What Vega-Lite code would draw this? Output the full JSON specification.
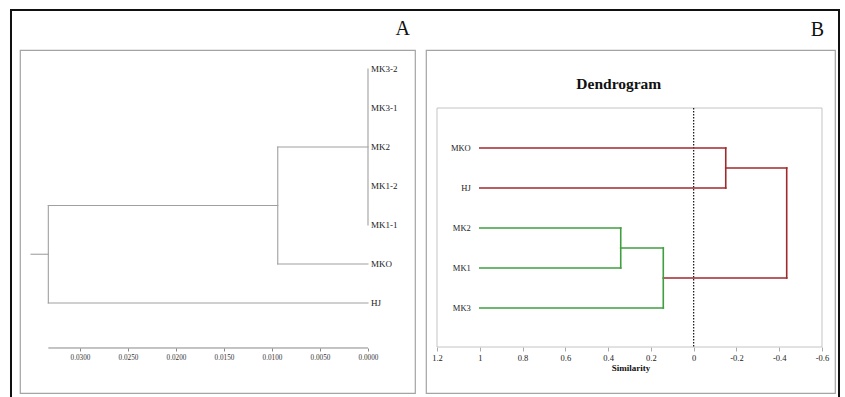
{
  "$schema": "https://vega.github.io/schema/vega-lite/v6.json",
  "background": "white",
  "padding": {"left": 9, "top": 8, "right": 0, "bottom": 0},
  "autosize": {"type": "pad"},
  "spacing": 11,
  "bounds": "flush",
  "config": {
    "view": {"stroke": "#a4a4a4", "strokeWidth": 1.2},
    "font": "Liberation Serif",
    "title": {"font": "Liberation Serif", "fontWeight": "normal", "fontSize": 20, "anchor": "end", "frame": "group", "baseline": "alphabetic", "color": "#111"}
  },
  "hconcat": [
    {
      "width": 395,
      "height": 343,
      "title": {"text": "A", "offset": -30, "dx": -5},
      "layer": [
        {
          "data": {"values": [{}]},
          "mark": {"type": "rect", "filled": false, "stroke": "#111", "strokeWidth": 2, "clip": false},
          "encoding": {
            "x": {"datum": 0.037188, "type": "quantitative", "title": null, "scale": {"domain": [-0.004896, 0.03625], "reverse": true, "nice": false, "zero": false}},
            "x2": {"datum": -0.049063},
            "y": {"datum": -0.513, "type": "quantitative", "scale": {"domain": [0.513, 9.308], "reverse": true, "nice": false, "zero": false}, "axis": null},
            "y2": {"datum": 9.6}
          }
        },
        {
          "data": {"values": [
            {"x1": 0, "x2": 0, "y1": 1, "y2": 5},
            {"x1": 0, "x2": 0.0094, "y1": 3, "y2": 3},
            {"x1": 0.0094, "x2": 0.0094, "y1": 3, "y2": 6},
            {"x1": 0.0094, "x2": 0, "y1": 6, "y2": 6},
            {"x1": 0.0094, "x2": 0.0333, "y1": 4.5, "y2": 4.5},
            {"x1": 0.0333, "x2": 0.0333, "y1": 4.5, "y2": 7},
            {"x1": 0.0333, "x2": 0, "y1": 7, "y2": 7},
            {"x1": 0.0333, "x2": 0.0351, "y1": 5.75, "y2": 5.75}
          ]},
          "mark": {"type": "rule", "color": "#a0a0a0", "strokeWidth": 1.1, "strokeCap": "square"},
          "encoding": {
            "x": {"field": "x1", "type": "quantitative", "title": null,
              "scale": {"domain": [-0.004896, 0.03625], "reverse": true, "nice": false, "zero": false},
              "axis": {"values": [0.03, 0.025, 0.02, 0.015, 0.01, 0.005, 0], "format": ".4f", "domain": false, "grid": false, "offset": -45, "tickSize": 3, "tickColor": "#888", "labelFontSize": 7.2, "labelFont": "Liberation Serif", "labelColor": "#333", "labelPadding": 2, "title": null}},
            "x2": {"field": "x2"},
            "y": {"field": "y1", "type": "quantitative", "scale": {"domain": [0.513, 9.308], "reverse": true, "nice": false, "zero": false}, "axis": null},
            "y2": {"field": "y2"}
          }
        },
        {
          "data": {"values": [{}]},
          "mark": {"type": "rule", "color": "#888", "strokeWidth": 1},
          "encoding": {
            "x": {"datum": 0.0333, "type": "quantitative", "title": null},
            "x2": {"datum": 0},
            "y": {"datum": 8.154, "type": "quantitative", "axis": null}
          }
        },
        {
          "data": {"values": [
            {"leaf": "MK3-2", "dist": 0, "pos": 1},
            {"leaf": "MK3-1", "dist": 0, "pos": 2},
            {"leaf": "MK2", "dist": 0, "pos": 3},
            {"leaf": "MK1-2", "dist": 0, "pos": 4},
            {"leaf": "MK1-1", "dist": 0, "pos": 5},
            {"leaf": "MKO", "dist": 0, "pos": 6},
            {"leaf": "HJ", "dist": 0, "pos": 7}
          ]},
          "mark": {"type": "text", "align": "left", "baseline": "middle", "dx": 3, "fontSize": 9, "font": "Liberation Serif", "color": "#222"},
          "encoding": {
            "x": {"field": "dist", "type": "quantitative", "title": null},
            "y": {"field": "pos", "type": "quantitative", "axis": null},
            "text": {"field": "leaf"}
          }
        }
      ]
    },
    {
      "width": 409,
      "height": 343,
      "title": {"text": "B", "offset": 10, "dx": -11},
      "layer": [
        {
          "data": {"values": [{}]},
          "mark": {"type": "rect", "filled": false, "stroke": "#c4c4c4", "strokeWidth": 1},
          "encoding": {
            "x": {"datum": 1.2, "type": "quantitative", "title": "Similarity", "scale": {"domain": [-0.6608, 1.2514], "reverse": true, "nice": false, "zero": false},
              "axis": {"values": [1.2, 1, 0.8, 0.6, 0.4, 0.2, 0, -0.2, -0.4, -0.6], "format": "~g", "labelExpr": "replace(datum.label, '\u2212', '-')", "domain": false, "grid": false, "offset": -46, "tickSize": 4, "tickColor": "#aaa", "labelFontSize": 8.5, "labelFont": "Liberation Serif", "labelColor": "#222", "labelPadding": 2, "title": "Similarity", "titleFont": "Liberation Serif", "titleFontSize": 9, "titleFontWeight": "bold", "titleColor": "#111", "titlePadding": 2}},
            "x2": {"datum": -0.6},
            "y": {"datum": 0, "type": "quantitative", "scale": {"domain": [-1.45, 7.125], "reverse": true, "nice": false, "zero": false}, "axis": null},
            "y2": {"datum": 5.975}
          }
        },
        {
          "data": {"values": [{}]},
          "mark": {"type": "rule", "color": "#111", "strokeWidth": 1.2, "strokeDash": [1.5, 1.5]},
          "encoding": {
            "x": {"datum": 0, "type": "quantitative", "title": "Similarity"},
            "y": {"datum": 0, "type": "quantitative", "axis": null},
            "y2": {"datum": 5.975}
          }
        },
        {
          "data": {"values": [
            {"x1": 1, "x2": -0.15, "y1": 1, "y2": 1, "cluster": "red"},
            {"x1": 1, "x2": -0.15, "y1": 2, "y2": 2, "cluster": "red"},
            {"x1": -0.15, "x2": -0.15, "y1": 1, "y2": 2, "cluster": "red"},
            {"x1": -0.15, "x2": -0.435, "y1": 1.5, "y2": 1.5, "cluster": "red"},
            {"x1": -0.435, "x2": -0.435, "y1": 1.5, "y2": 4.25, "cluster": "red"},
            {"x1": -0.435, "x2": 0.142, "y1": 4.25, "y2": 4.25, "cluster": "red"},
            {"x1": 1, "x2": 0.341, "y1": 3, "y2": 3, "cluster": "green"},
            {"x1": 1, "x2": 0.341, "y1": 4, "y2": 4, "cluster": "green"},
            {"x1": 0.341, "x2": 0.341, "y1": 3, "y2": 4, "cluster": "green"},
            {"x1": 0.341, "x2": 0.142, "y1": 3.5, "y2": 3.5, "cluster": "green"},
            {"x1": 0.142, "x2": 0.142, "y1": 3.5, "y2": 5, "cluster": "green"},
            {"x1": 1, "x2": 0.142, "y1": 5, "y2": 5, "cluster": "green"}
          ]},
          "mark": {"type": "rule", "strokeWidth": 1.6, "strokeCap": "square"},
          "encoding": {
            "x": {"field": "x1", "type": "quantitative", "title": "Similarity"},
            "x2": {"field": "x2"},
            "y": {"field": "y1", "type": "quantitative", "axis": null},
            "y2": {"field": "y2"},
            "color": {"field": "cluster", "type": "nominal", "scale": {"domain": ["red", "green"], "range": ["#a0292b", "#3f9e3f"]}, "legend": null}
          }
        },
        {
          "data": {"values": [
            {"leaf": "MKO", "sim": 1, "pos": 1},
            {"leaf": "HJ", "sim": 1, "pos": 2},
            {"leaf": "MK2", "sim": 1, "pos": 3},
            {"leaf": "MK1", "sim": 1, "pos": 4},
            {"leaf": "MK3", "sim": 1, "pos": 5}
          ]},
          "mark": {"type": "text", "align": "right", "baseline": "middle", "dx": -9, "fontSize": 8.5, "font": "Liberation Serif", "color": "#222"},
          "encoding": {
            "x": {"field": "sim", "type": "quantitative", "title": "Similarity"},
            "y": {"field": "pos", "type": "quantitative", "axis": null},
            "text": {"field": "leaf"}
          }
        },
        {
          "data": {"values": [{"heading": "Dendrogram"}]},
          "mark": {"type": "text", "align": "center", "baseline": "middle", "fontSize": 15.5, "fontWeight": "bold", "font": "Liberation Serif", "color": "#111"},
          "encoding": {
            "x": {"datum": 0.35, "type": "quantitative", "title": "Similarity"},
            "y": {"datum": -0.6, "type": "quantitative", "axis": null},
            "text": {"field": "heading"}
          }
        }
      ]
    }
  ]
}
